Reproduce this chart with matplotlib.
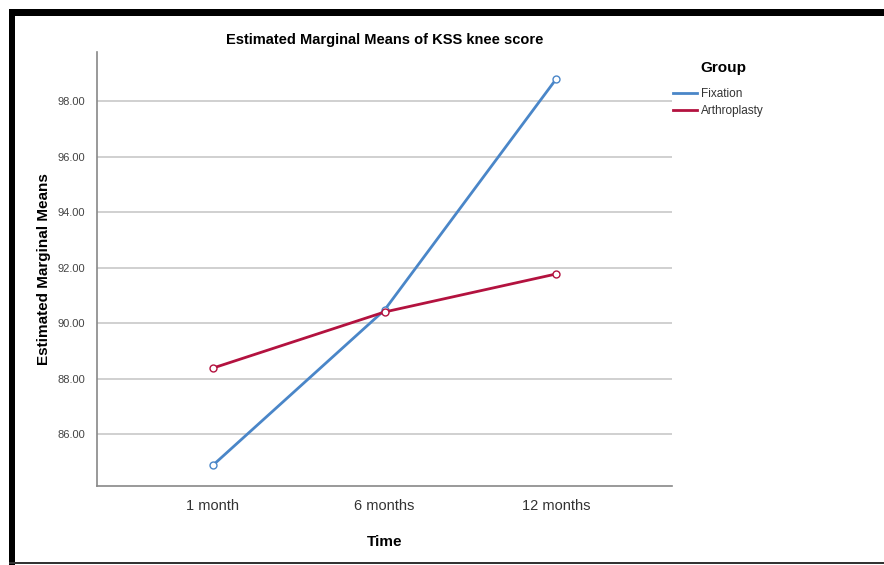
import matplotlib
matplotlib.use("Agg")
import matplotlib.pyplot as plt
from matplotlib.patches import Rectangle

plt.rcParams['font.family'] = ['Liberation Sans', 'DejaVu Sans']

# datos
tiempos = ['1 month', '6 months', '12 months']
fixation = [84.88, 90.47, 98.79]
arthroplasty = [88.38, 90.40, 91.77]
yticks = [86, 88, 90, 92, 94, 96, 98]

W, H = 884, 565
fig = plt.figure(figsize=(W / 100, H / 100), dpi=100)
ax = fig.add_axes([97 / W, 1 - 486 / H, (672 - 97) / W, (486 - 52) / H])

x = range(len(tiempos))
ax.plot(x, fixation, color='#4a86c8', lw=2, marker='o', ms=5,
        mfc='white', mec='#4a86c8', mew=1, label='Fixation', zorder=3)
ax.plot(x, arthroplasty, color='#b3123f', lw=2, marker='o', ms=5,
        mfc='white', mec='#b3123f', mew=1, label='Arthroplasty', zorder=3)

ax.set_xlim(-0.676, 2.676)
ax.set_ylim(84.13, 99.77)
ax.set_yticks(yticks)
ax.set_yticklabels([f'{v:.2f}' for v in yticks], fontsize=8, color='#444444')
ax.set_xticks(list(x))
ax.set_xticklabels(tiempos, fontsize=10.5, color='#333333')
ax.tick_params(axis='y', length=0, pad=8.5)
ax.tick_params(axis='x', length=0, pad=9)
ax.grid(axis='y', color='#c8c8c8', lw=1.2)
ax.set_axisbelow(True)
for s in ['top', 'right']:
    ax.spines[s].set_visible(False)
for s in ['left', 'bottom']:
    ax.spines[s].set_color('#888888')
    ax.spines[s].set_linewidth(1.2)

ax.set_title('Estimated Marginal Means of KSS knee score', fontsize=10.5,
             fontweight='bold', pad=6)
ax.set_ylabel('Estimated Marginal Means', fontsize=11, fontweight='bold', labelpad=4.5)
ax.set_xlabel('Time', fontsize=11, fontweight='bold', labelpad=16)

# leyenda a la derecha
fig.text(700 / W, 1 - 68 / H, 'Group', fontsize=11, fontweight='bold',
         ha='left', va='center')
leg = fig.legend(loc='upper left', bbox_to_anchor=(673 / W, 1 - 88 / H),
                 bbox_transform=fig.transFigure, frameon=False, fontsize=8.5,
                 handlelength=2.05, handletextpad=0.3, labelspacing=0.42,
                 borderpad=0, borderaxespad=0)
for h in leg.legend_handles:
    h.set_marker('')
for t in leg.get_texts():
    t.set_color('#333333')

# marco negro de la captura
fig.add_artist(Rectangle((9 / W, 0), 6 / W, 1 - 9 / H, transform=fig.transFigure,
                         color='black', lw=0))
fig.add_artist(Rectangle((9 / W, 1 - 16 / H), 1 - 9 / W, 7 / H,
                         transform=fig.transFigure, color='black', lw=0))
fig.add_artist(Rectangle((9 / W, 1 - 564 / H), 1 - 9 / W, 2 / H,
                         transform=fig.transFigure, color='#333333', lw=0))

fig.savefig('out.png', dpi=100)
